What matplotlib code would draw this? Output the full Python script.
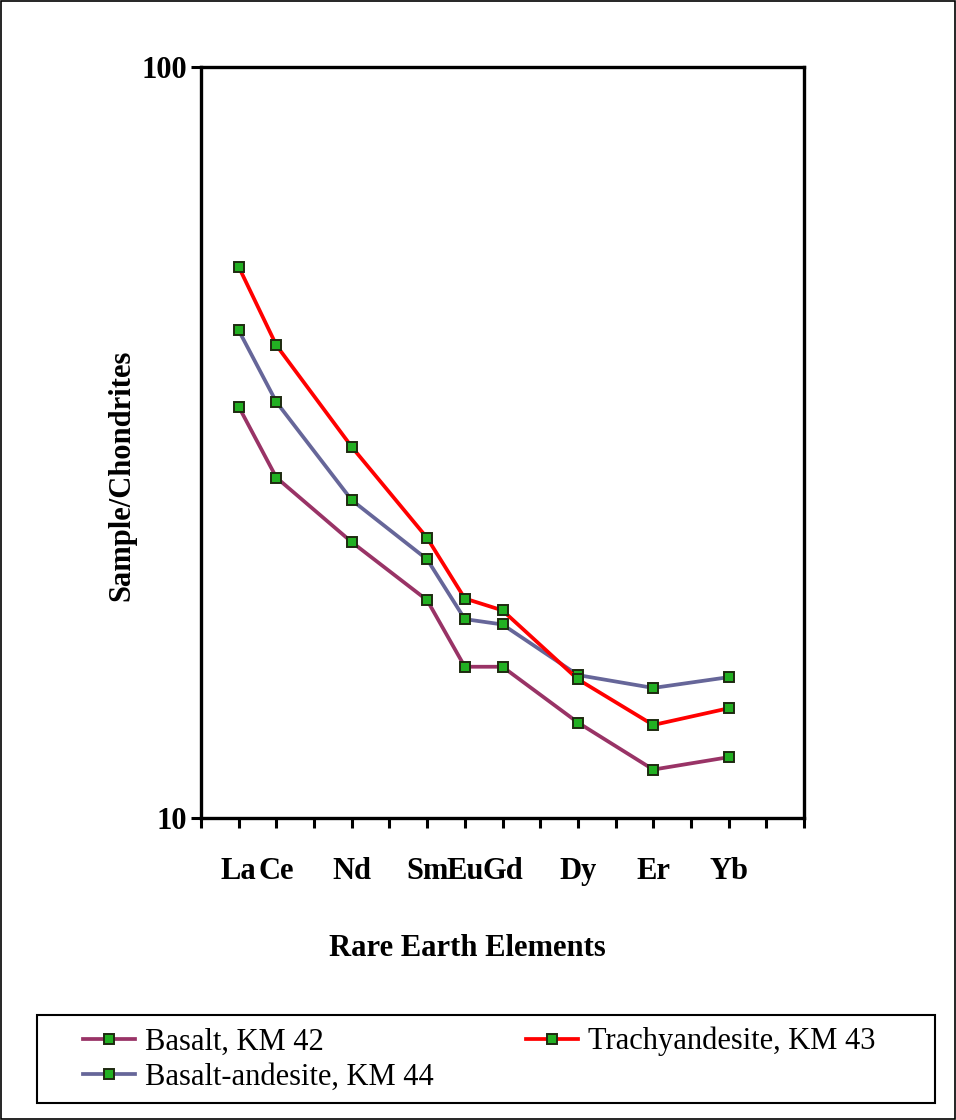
import matplotlib.pyplot as plt
from matplotlib.patches import Rectangle

# Data (chondrite normalised REE)
elements = ['La', 'Ce', 'Pr', 'Nd', 'Pm', 'Sm', 'Eu', 'Gd', 'Tb', 'Dy', 'Ho', 'Er', 'Tm', 'Yb', 'Lu']
shown = ['La', 'Ce', 'Nd', 'Sm', 'Eu', 'Gd', 'Dy', 'Er', 'Yb']

basalt = [35.3, 28.4, 23.3, 19.5, 15.9, 15.9, 13.4, 11.6, 12.05]
trachy = [54.2, 42.6, 31.2, 23.6, 19.6, 18.9, 15.3, 13.3, 14.0]
bas_and = [44.6, 35.8, 26.5, 22.1, 18.4, 18.1, 15.5, 14.9, 15.4]

labels = ['Basalt, KM 42', 'Basalt-andesite, KM 44', 'Trachyandesite, KM 43']

plt.rcParams['font.family'] = 'Liberation Serif'

W, H = 956, 1120
fig = plt.figure(figsize=(W / 100, H / 100), dpi=100)
ax = fig.add_axes([201/W, 1 - 818/H, 603/W, 751/H])

x = [elements.index(e) + 1 for e in shown]

mk = dict(marker='s', markersize=7.5, markerfacecolor='#22b022',
          markeredgecolor='#1e2a10', markeredgewidth=1.4, lw=2.7)
l1, = ax.plot(x, basalt, color='#993366', **mk)
l3, = ax.plot(x, bas_and, color='#666699', **mk)
l2, = ax.plot(x, trachy, color='#ff0000', **mk)

ax.set_yscale('log')
ax.set_ylim(10, 100)
ax.set_xlim(0, 16)
ax.set_yticks([10, 100])
ax.set_yticklabels(['10', '100'])
ax.yaxis.set_minor_locator(plt.NullLocator())

ax.set_xticks(range(17))
xt = ['' for i in range(17)]
for e in shown:
    xt[elements.index(e) + 1] = e
ax.set_xticklabels(xt)

for s in ax.spines.values():
    s.set_linewidth(2.4)
ax.tick_params(axis='both', direction='out', length=7, width=2.2,
               labelsize=22)
ax.tick_params(axis='x', pad=21)
ax.tick_params(axis='y', pad=3)
for t in ax.get_xticklabels() + ax.get_yticklabels():
    t.set_fontweight('bold')

ax.set_xlabel('Rare Earth Elements', fontsize=22, fontweight='bold')
ax.xaxis.set_label_coords((467 - 201) / 603, -(948 - 818) / 751)
ax.xaxis.label.set_va('center')
ax.set_ylabel('Sample/Chondrites', fontsize=22, fontweight='bold')
ax.yaxis.set_label_coords(-(201 - 122) / 603, (818 - 475) / 751)
ax.yaxis.label.set_va('center')

# legend box
fig.patches.append(Rectangle((37/W, 1 - 1103/H), 898/W, 88/H, transform=fig.transFigure,
                             fill=False, edgecolor='black', lw=1.5))
fs = 22 * 100 / 72
leg = fig.legend([l1, l3, l2], labels, ncol=2, loc='upper left',
                 bbox_to_anchor=(83/W, 1 - 1027/H), fontsize=22,
                 frameon=False, handlelength=52/fs, handletextpad=10/fs,
                 columnspacing=92/fs, labelspacing=0.2, borderpad=0,
                 borderaxespad=0)

fig.patches.append(Rectangle((0.001, 0.001), 0.998, 0.998, transform=fig.transFigure,
                             fill=False, edgecolor='black', lw=1.2))

fig.savefig('out.png', dpi=100)
